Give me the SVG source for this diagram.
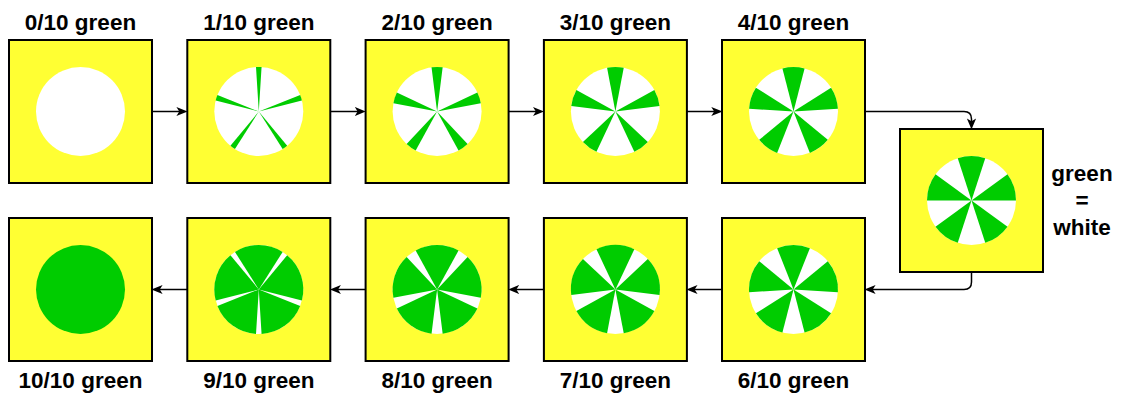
<svg xmlns="http://www.w3.org/2000/svg" xmlns:xlink="http://www.w3.org/1999/xlink" width="1126" height="394" viewBox="0 0 1126 394">
<style>
.box{fill:#FFFF33;stroke:#000;stroke-width:2}
.disc{fill:#fff}
.full{fill:#00CC00}
.g{fill:#00CC00}
.lbl{font-family:"Liberation Sans",Arial,sans-serif;font-weight:bold;font-size:22.5px;text-anchor:middle;fill:#000}
.conn{fill:none;stroke:#000;stroke-width:1.5}
</style>
<defs>
<marker id="arr" viewBox="0 0 10 10" refX="6" refY="5" markerWidth="11" markerHeight="11" markerUnits="userSpaceOnUse" orient="auto">
<path d="M0,0.8 L10,5 L0,9.2 L2.6,5 Z" fill="#000"/>
</marker>
<path id="w1" d="M0,0 L-2.794,-44.412 A44.5,44.5 0 0 1 2.794,-44.412 Z"/>
<path id="w2" d="M0,0 L-5.577,-44.149 A44.5,44.5 0 0 1 5.577,-44.149 Z"/>
<path id="w3" d="M0,0 L-8.338,-43.712 A44.5,44.5 0 0 1 8.338,-43.712 Z"/>
<path id="w4" d="M0,0 L-11.067,-43.102 A44.5,44.5 0 0 1 11.067,-43.102 Z"/>
<path id="w5" d="M0,0 L-13.751,-42.322 A44.5,44.5 0 0 1 13.751,-42.322 Z"/>
<path id="w6" d="M0,0 L-16.381,-41.375 A44.5,44.5 0 0 1 16.381,-41.375 Z"/>
<path id="w7" d="M0,0 L-18.947,-40.265 A44.5,44.5 0 0 1 18.947,-40.265 Z"/>
<path id="w8" d="M0,0 L-21.438,-38.996 A44.5,44.5 0 0 1 21.438,-38.996 Z"/>
<path id="w9" d="M0,0 L-23.844,-37.573 A44.5,44.5 0 0 1 23.844,-37.573 Z"/>
<g id="p1" class="g"><use xlink:href="#w1"/><use xlink:href="#w1" transform="rotate(72)"/><use xlink:href="#w1" transform="rotate(144)"/><use xlink:href="#w1" transform="rotate(216)"/><use xlink:href="#w1" transform="rotate(288)"/></g>
<g id="p2" class="g"><use xlink:href="#w2"/><use xlink:href="#w2" transform="rotate(72)"/><use xlink:href="#w2" transform="rotate(144)"/><use xlink:href="#w2" transform="rotate(216)"/><use xlink:href="#w2" transform="rotate(288)"/></g>
<g id="p3" class="g"><use xlink:href="#w3"/><use xlink:href="#w3" transform="rotate(72)"/><use xlink:href="#w3" transform="rotate(144)"/><use xlink:href="#w3" transform="rotate(216)"/><use xlink:href="#w3" transform="rotate(288)"/></g>
<g id="p4" class="g"><use xlink:href="#w4"/><use xlink:href="#w4" transform="rotate(72)"/><use xlink:href="#w4" transform="rotate(144)"/><use xlink:href="#w4" transform="rotate(216)"/><use xlink:href="#w4" transform="rotate(288)"/></g>
<g id="p5" class="g"><use xlink:href="#w5"/><use xlink:href="#w5" transform="rotate(72)"/><use xlink:href="#w5" transform="rotate(144)"/><use xlink:href="#w5" transform="rotate(216)"/><use xlink:href="#w5" transform="rotate(288)"/></g>
<g id="p6" class="g"><use xlink:href="#w6"/><use xlink:href="#w6" transform="rotate(72)"/><use xlink:href="#w6" transform="rotate(144)"/><use xlink:href="#w6" transform="rotate(216)"/><use xlink:href="#w6" transform="rotate(288)"/></g>
<g id="p7" class="g"><use xlink:href="#w7"/><use xlink:href="#w7" transform="rotate(72)"/><use xlink:href="#w7" transform="rotate(144)"/><use xlink:href="#w7" transform="rotate(216)"/><use xlink:href="#w7" transform="rotate(288)"/></g>
<g id="p8" class="g"><use xlink:href="#w8"/><use xlink:href="#w8" transform="rotate(72)"/><use xlink:href="#w8" transform="rotate(144)"/><use xlink:href="#w8" transform="rotate(216)"/><use xlink:href="#w8" transform="rotate(288)"/></g>
<g id="p9" class="g"><use xlink:href="#w9"/><use xlink:href="#w9" transform="rotate(72)"/><use xlink:href="#w9" transform="rotate(144)"/><use xlink:href="#w9" transform="rotate(216)"/><use xlink:href="#w9" transform="rotate(288)"/></g>
</defs>

<g id="connectors">
<path class="conn" d="M152,111.5 L183,111.5" marker-end="url(#arr)"/>
<path class="conn" d="M330,111.5 L361.3,111.5" marker-end="url(#arr)"/>
<path class="conn" d="M508.6,111.5 L539.6,111.5" marker-end="url(#arr)"/>
<path class="conn" d="M686.9,111.5 L717.9,111.5" marker-end="url(#arr)"/>
<path class="conn" d="M865,111.5 L964,111.5 Q971.5,111.5 971.5,119 L971.5,125" marker-end="url(#arr)"/>
<path class="conn" d="M971.5,272 L971.5,282 Q971.5,289.5 964,289.5 L869,289.5" marker-end="url(#arr)"/>
<path class="conn" d="M722,289.5 L690.9,289.5" marker-end="url(#arr)"/>
<path class="conn" d="M543.7,289.5 L512.6,289.5" marker-end="url(#arr)"/>
<path class="conn" d="M365.4,289.5 L334.3,289.5" marker-end="url(#arr)"/>
<path class="conn" d="M187.1,289.5 L156,289.5" marker-end="url(#arr)"/>
</g>

<g id="n0"><rect class="box" x="9" y="40" width="143" height="143"/><circle class="disc" cx="80.5" cy="111.5" r="44.5"/><text class="lbl" x="80.5" y="29.5">0/10 green</text></g>
<g id="n1"><rect class="box" x="187.3" y="40" width="143" height="143"/><circle class="disc" cx="258.8" cy="111.5" r="44.5"/><use xlink:href="#p1" transform="translate(258.8,111.5)"/><text class="lbl" x="258.8" y="29.5">1/10 green</text></g>
<g id="n2"><rect class="box" x="365.6" y="40" width="143" height="143"/><circle class="disc" cx="437.1" cy="111.5" r="44.5"/><use xlink:href="#p2" transform="translate(437.1,111.5)"/><text class="lbl" x="437.1" y="29.5">2/10 green</text></g>
<g id="n3"><rect class="box" x="543.9" y="40" width="143" height="143"/><circle class="disc" cx="615.4" cy="111.5" r="44.5"/><use xlink:href="#p3" transform="translate(615.4,111.5)"/><text class="lbl" x="615.4" y="29.5">3/10 green</text></g>
<g id="n4"><rect class="box" x="722" y="40" width="143" height="143"/><circle class="disc" cx="793.5" cy="111.5" r="44.5"/><use xlink:href="#p4" transform="translate(793.5,111.5)"/><text class="lbl" x="793.5" y="29.5">4/10 green</text></g>
<g id="n5"><rect class="box" x="900" y="129" width="143" height="143"/><circle class="disc" cx="971.5" cy="200.5" r="44.5"/><use xlink:href="#p5" transform="translate(971.5,200.5)"/></g>
<g id="legend"><text class="lbl" x="1082" y="180.5">green</text><text class="lbl" x="1082" y="207.5">=</text><text class="lbl" x="1082" y="234.5">white</text></g>
<g id="n6"><rect class="box" x="722" y="218" width="143" height="143"/><circle class="disc" cx="793.5" cy="289.5" r="44.5"/><use xlink:href="#p6" transform="translate(793.5,289.5)"/><text class="lbl" x="793.5" y="387.5">6/10 green</text></g>
<g id="n7"><rect class="box" x="543.9" y="218" width="143" height="143"/><circle class="disc" cx="615.4" cy="289.5" r="44.5"/><use xlink:href="#p7" transform="translate(615.4,289.5)"/><text class="lbl" x="615.4" y="387.5">7/10 green</text></g>
<g id="n8"><rect class="box" x="365.6" y="218" width="143" height="143"/><circle class="disc" cx="437.1" cy="289.5" r="44.5"/><use xlink:href="#p8" transform="translate(437.1,289.5)"/><text class="lbl" x="437.1" y="387.5">8/10 green</text></g>
<g id="n9"><rect class="box" x="187.3" y="218" width="143" height="143"/><circle class="disc" cx="258.8" cy="289.5" r="44.5"/><use xlink:href="#p9" transform="translate(258.8,289.5)"/><text class="lbl" x="258.8" y="387.5">9/10 green</text></g>
<g id="n10"><rect class="box" x="9" y="218" width="143" height="143"/><circle class="full" cx="80.5" cy="289.5" r="44.5"/><text class="lbl" x="80.5" y="387.5">10/10 green</text></g>
</svg>
